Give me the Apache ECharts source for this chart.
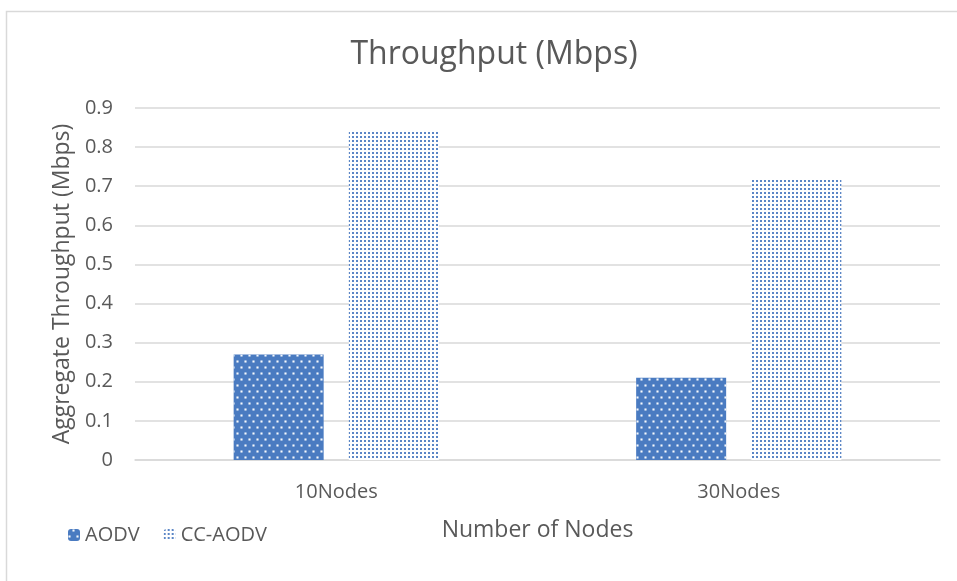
<!DOCTYPE html>
<html>
<head>
<meta charset="utf-8">
<script src="https://cdn.jsdelivr.net/npm/echarts@6/dist/echarts.min.js"></script>
<style>html,body{margin:0;padding:0;background:#fff}#c{width:957px;height:581px}</style>
</head>
<body>
<div id="c"></div>
<script>
const categories = ['10Nodes', '30Nodes'];
const aodv = [0.27, 0.21];
const ccAodv = [0.84, 0.72];
const yTicks = { min: 0, max: 0.9, interval: 0.1 };

const chart = echarts.init(document.getElementById('c'), null, { renderer: 'canvas' });
const font = '"Open Sans", "Liberation Sans", sans-serif';
const txt = '#595959';
chart.setOption({
  animation: false,
  backgroundColor: '#ffffff',
  graphic: [{
    type: 'rect', left: 4, top: 9, shape: { width: 1000, height: 1000 },
    style: { fill: 'none', stroke: '#d9d9d9', lineWidth: 1.5 }, silent: true
  }],
  title: {
    text: 'Throughput (Mbps)', left: 489, top: 34, textAlign: 'center',
    textStyle: { fontFamily: font, fontSize: 32, fontWeight: 'normal', color: txt }
  },
  legend: {
    left: 63, top: 520, itemWidth: 12, itemHeight: 12, itemGap: 24,
    textStyle: { fontFamily: font, fontSize: 20, color: txt },
    data: ['AODV', 'CC-AODV']
  },
  grid: { left: 135, right: 17, top: 108, bottom: 121, containLabel: false },
  xAxis: {
    type: 'category', data: categories,
    axisLine: { lineStyle: { color: '#d9d9d9', width: 1.5 } },
    axisTick: { show: false },
    axisLabel: { fontFamily: font, fontSize: 20, color: txt, margin: 22 },
    name: 'Number of Nodes', nameLocation: 'middle', nameGap: 59,
    nameTextStyle: { fontFamily: font, fontSize: 23, color: txt }
  },
  yAxis: {
    type: 'value', min: yTicks.min, max: yTicks.max, interval: yTicks.interval,
    axisLine: { show: false }, axisTick: { show: false },
    splitLine: { lineStyle: { color: '#d9d9d9', width: 1.5 } },
    axisLabel: { fontFamily: font, fontSize: 20, color: txt, margin: 22,
      formatter: v => (Math.round(v * 10) / 10).toString() },
    name: 'Aggregate Throughput (Mbps)', nameLocation: 'middle', nameGap: 60,
    nameTextStyle: { fontFamily: font, fontSize: 23, color: txt }
  },
  series: [
    {
      name: 'AODV', type: 'bar', data: aodv, barWidth: 90, barGap: '28%',
      itemStyle: {
        color: '#4a7bc1',
        decal: { symbol: 'rect', symbolSize: 0.7, color: 'rgba(255,255,255,0.95)',
          dashArrayX: [[3, 5], [0, 4, 3, 1]], dashArrayY: [3, 3], rotation: 0 }
      }
    },
    {
      name: 'CC-AODV', type: 'bar', data: ccAodv, barWidth: 90,
      itemStyle: {
        color: '#ffffff',
        decal: { symbol: 'rect', symbolSize: 1, color: '#5b86c6',
          dashArrayX: [2, 2], dashArrayY: [2, 2], rotation: 0 }
      }
    }
  ]
});
</script>
</body>
</html>
